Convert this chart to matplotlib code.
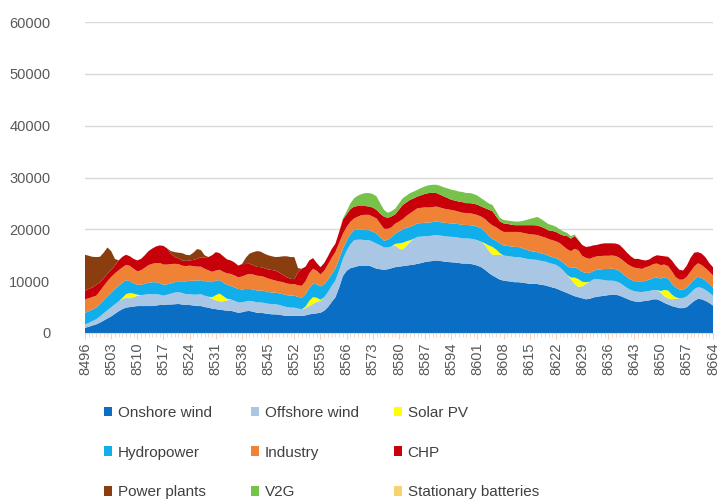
import matplotlib
matplotlib.use("Agg")
import matplotlib.pyplot as plt
from matplotlib.patches import Patch

hours = list(range(8496, 8665))

onshore_wind = [
    1000,1200,1450,1650,2000,2400,2800,3200,3700,4200,4600,4900,
    5000,5100,5200,5200,5200,5200,5200,5300,5400,5400,5500,5500,
    5550,5600,5500,5400,5400,5300,5200,5200,5000,4900,4700,4600,
    4500,4400,4300,4300,4100,3900,4000,4200,4250,4100,3900,3900,
    3800,3700,3600,3600,3500,3400,3300,3300,3300,3300,3300,3400,
    3600,3700,3800,3900,4300,5000,6000,6900,8800,11000,12000,12500,
    12700,12900,13000,13000,13000,12700,12400,12300,12200,12300,12500,12700,
    12800,12900,13000,13100,13200,13350,13500,13700,13800,13900,14000,13900,
    13800,13700,13650,13600,13500,13400,13400,13350,13200,13000,12700,12200,
    11600,11100,10700,10300,10100,10000,9900,9800,9800,9700,9600,9500,
    9500,9450,9300,9200,9000,8800,8600,8300,8000,7700,7400,7100,
    6900,6700,6500,6600,6850,7000,7100,7200,7300,7400,7400,7200,
    6900,6600,6300,6100,6000,6100,6200,6300,6500,6500,6200,5800,
    5500,5200,5000,4800,4800,5000,5600,6200,6600,6500,6200,5800,
    5300]

offshore_wind = [
    650,750,850,1000,1200,1400,1600,1750,1850,1900,1950,1900,
    1700,1800,2000,2100,2200,2300,2300,2200,2000,1800,1900,2100,
    2250,2300,2200,2100,2100,2100,2200,2300,2200,2100,1900,1700,
    1600,1700,2000,2200,2100,2000,1900,1900,1950,2000,2000,2000,
    2000,1950,1950,1950,1900,1800,1700,1600,1600,1400,1300,1400,
    1600,1900,2200,2300,2600,2900,3100,3250,3300,3300,3900,4600,
    5200,5100,5000,4900,4900,4900,4850,4600,4300,4200,4200,4200,
    3500,3200,3800,4500,5000,5200,5100,5000,4900,4900,4900,4900,
    4900,4900,4900,4900,4900,4850,4850,4850,4900,4900,4900,4800,
    4300,4000,4400,4800,4850,4850,4850,4850,4850,4800,4750,4700,
    4650,4650,4600,4600,4550,4550,4550,4400,4000,3500,3000,2400,
    2000,2300,3000,3300,3500,3400,3200,3000,2800,2700,2600,2500,
    2300,2100,2000,1950,1950,1800,1800,1800,1800,1800,1600,1300,
    1200,1300,1600,1900,1950,2050,2150,2250,2250,2200,2100,2000,
    1900]

solar_pv = [
    0,0,0,0,0,0,0,0,0,0,200,700,
    1000,700,200,0,0,0,0,0,0,0,0,0,
    0,0,0,0,0,0,0,0,0,0,300,1000,
    1500,1000,300,0,0,0,0,0,0,0,0,0,
    0,0,0,0,0,0,0,0,0,0,0,300,
    1000,1300,800,200,0,0,0,0,0,0,0,0,
    0,0,0,0,0,0,0,0,0,0,0,300,
    1000,1300,900,300,0,0,0,0,0,0,0,0,
    0,0,0,0,0,0,0,0,0,0,0,300,
    1000,1500,1000,300,0,0,0,0,0,0,0,0,
    0,0,0,0,0,0,0,0,0,0,300,1200,
    1500,900,300,0,0,0,0,0,0,0,0,0,
    0,0,0,0,0,0,0,0,0,0,300,1200,
    1500,900,300,0,0,0,0,0,0,0,0,0,
    0]

hydropower = [
    2230,2250,2250,2270,2400,2550,2700,2850,2950,3000,2950,2700,
    2300,2000,1900,2000,2100,2200,2300,2300,2200,2100,2000,2000,
    2000,2100,2200,2400,2600,2700,2700,2700,2800,2900,2900,2800,
    2600,2600,2700,2600,2600,2600,2500,2400,2300,2300,2300,2300,
    2300,2250,2250,2250,2250,2300,2300,2300,2300,2250,2250,2400,
    2500,2600,2600,2600,2500,2400,2300,2300,2200,1950,1950,1950,
    1950,1950,1950,1950,1950,1950,1950,1600,1300,1500,1800,2000,
    2300,2600,2600,2600,2600,2600,2600,2600,2600,2600,2600,2600,
    2600,2600,2600,2600,2600,2600,2600,2600,2600,2600,2600,2300,
    1900,1550,1700,1900,1950,1950,1950,1950,1950,1850,1750,1650,
    1550,1500,1450,1400,1350,1300,1300,1400,1500,1700,1850,1950,
    1950,1900,1800,1700,1650,1800,2000,2150,2250,2300,2300,2250,
    2150,2050,2000,1950,1950,1950,2100,2200,2300,2400,2400,2400,
    2300,2100,1900,1700,1650,1700,1800,1900,2000,1900,1800,1700,
    1600]

industry = [
    2600,2500,2400,2270,2500,2700,2900,3000,3000,3000,2950,2950,
    2950,2800,2600,2800,3100,3400,3550,3700,3900,3900,3800,3700,
    3550,3300,3100,3000,2900,2800,2700,2600,2400,2200,2000,1950,
    2000,2100,2200,2300,2300,2250,2500,2700,2900,2900,2850,2800,
    2700,2600,2500,2300,2300,2300,2250,2250,2250,2250,2250,2500,
    2800,2900,2600,2300,2600,2900,3100,3200,3100,2900,2600,2400,
    2250,2500,2800,2950,2950,2900,2900,2600,2300,2100,1900,1900,
    1900,1950,2300,2600,2800,2950,2950,2950,2900,2900,2900,2800,
    2700,2650,2600,2500,2400,2350,2300,2300,2250,2250,2250,2400,
    2500,2600,2600,2600,2600,2700,2800,2900,2900,3000,3100,3200,
    3300,3300,3300,3250,3250,3250,3250,3250,3250,3250,3250,3600,
    3600,3100,2900,2700,2600,2600,2550,2550,2550,2550,2550,2550,
    2600,2600,2600,2600,2600,2500,2600,2600,2700,2700,2600,2500,
    2400,2400,2000,1900,1900,2100,2300,2500,2600,2500,2400,2350,
    2300]

chp = [
    1670,1800,1850,2110,1700,1550,1400,1400,1500,1900,
    2050,1950,1850,1900,2100,2200,2400,2700,2950,3200,3400,3600,3100,
    2000,1300,1100,1000,1000,1000,1200,1500,1800,2200,
    2550,3200,3550,3200,3000,2700,2600,2500,2250,2400,
    2100,1950,1800,1700,1700,1700,1750,1850,1950,1700,1400,1200,1000,950,2500,
    3300,2800,2500,2050,1500,1400,1500,1600,1700,1600,2100,
    2750,2450,2450,2300,2050,1750,1700,1600,1750,1650,1900,2350,2100,2100,
    1800,2300,2750,2600,2600,2400,2250,2450,2600,2800,2750,2600,2500,2350,
    2200,1950,1950,1950,2050,1900,1950,2000,2000,1950,2100,2500,2750,
    2100,1600,1650,1550,1400,1300,1300,1450,1600,1750,1800,1850,1850,1750,
    1650,1800,1800,1750,2050,2550,
    2400,2450,1950,2100,2100,2400,2300,2200,2350,2400,2400,2350,2400,2500,
    2350,2150,1900,1700,1800,1750,
    1300,1300,1400,1600,1800,1600,1800,2100,2200,1900,1750,2150,2650,2650,
    2150,2200,2100,1650,1600]

power_plants = (
    [6950,6400,5900,5350,4900,4900,5100,3600,1300,0]
    + [0] * 13
    + [500,950,1100,1400,1200,1000,1400,1900,1400,400]
    + [0] * 10
    + [1200,1950,2500,3050,3000,2800,2750,2650,2600,3050,3600,4050,4200,4250,800]
    + [0] * 111)

v2g = (
    [0] * 69
    + [200,600,1100,1600,2000,2300,2500,2600,2600,2600,2000,1300,
       1000,1000,1100,1200,1300,1300,1300,1300,1300,1400,1450,1500,
       1550,1600,1700,1750,1850,1950,1950,1950,1950,1950,1950,1850,
       1750,1600,1400,1200,1200,1000,700,650,650,700,700,700,
       800,1000,1200,1400,1650,1500,1300,1200,1100,1000,900,800,600,500,300,100]
    + [0] * 36)

stationary_batteries = [0] * 169

series_names = ["Onshore wind", "Offshore wind", "Solar PV", "Hydropower",
                "Industry", "CHP", "Power plants", "V2G", "Stationary batteries"]
series_colors = ["#0A6EC4", "#A9C6E4", "#FFFF00", "#12AEEC", "#F08236",
                 "#C8000A", "#8A3E10", "#76C24A", "#F7D26E"]

x_tick_labels = [str(h) for h in range(8496, 8665, 7)]
y_ticks = [0, 10000, 20000, 30000, 40000, 50000, 60000]

plt.rcParams['font.family'] = ['Liberation Sans', 'DejaVu Sans']

W, H = 719, 500
fig = plt.figure(figsize=(W / 100, H / 100), dpi=100)
ax = fig.add_axes([85 / W, 1 - 333 / H, (713 - 85) / W, (333 - 22) / H])

data = [onshore_wind, offshore_wind, solar_pv, hydropower, industry, chp,
        power_plants, v2g, stationary_batteries]
ax.stackplot(hours, *data, colors=series_colors, labels=series_names,
             linewidth=0)

ax.set_xlim(8496, 8664)
ax.set_ylim(0, 60000)
ax.set_yticks(y_ticks)
ax.set_yticklabels([str(v) for v in y_ticks])
ax.set_xticks([int(t) for t in x_tick_labels])
ax.set_xticklabels(x_tick_labels, rotation=90)
ax.set_xticks(hours, minor=True)

ax.set_axisbelow(True)
ax.grid(axis='y', color='#D9D9D9', linewidth=1.0)
for s in ['top', 'right', 'left']:
    ax.spines[s].set_visible(False)
ax.spines['bottom'].set_color('#F3D2BC')
ax.tick_params(axis='y', length=0, pad=25, labelsize=10.5, labelcolor='#595959')
ax.tick_params(axis='x', which='major', length=4, color='#F3D2BC', pad=3,
               labelsize=10.5, labelcolor='#595959')
ax.tick_params(axis='x', which='minor', length=3, color='#F3D2BC')

# legend: three columns, row-wise order like the original
handles = [Patch(facecolor=c, edgecolor='none') for c in series_colors]
col_x = [104, 251, 394]
for ci in range(3):
    idx = [ci, ci + 3, ci + 6]
    fig.legend([handles[i] for i in idx], [series_names[i] for i in idx],
               loc='upper left', bbox_to_anchor=(col_x[ci] / W, 1 - 406 / H),
               frameon=False, fontsize=11, handlelength=0.55, handleheight=0.6,
               handletextpad=0.35, labelspacing=1.68, borderaxespad=0,
               borderpad=0, labelcolor='#404040')

fig.savefig("out.png", dpi=100)
